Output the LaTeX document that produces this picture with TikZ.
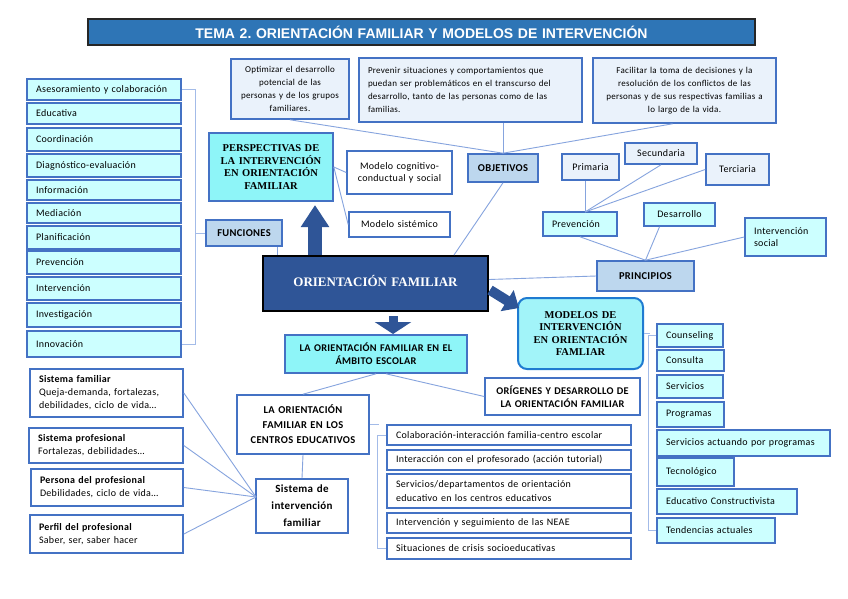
\documentclass[tikz,border=0pt]{standalone}
\usepackage{fontspec}
\setmainfont{Carlito}[LetterSpace=3]
\newfontfamily\serifb{Liberation Serif}
\newfontfamily\titlef{Liberation Sans}
\usetikzlibrary{arrows.meta}
\definecolor{bord}{HTML}{4472C4}
\definecolor{lineblue}{HTML}{86A4DE}
\definecolor{brk}{HTML}{A3BBE8}
\definecolor{cyanL}{HTML}{CCFFFF}
\definecolor{cyanM}{HTML}{8EF5F8}
\definecolor{headf}{HTML}{BDD7EE}
\definecolor{objf}{HTML}{EAF2FB}
\definecolor{darkb}{HTML}{2F5597}
\definecolor{titleb}{HTML}{2E75B6}
\definecolor{modb}{HTML}{1F7BD1}
\definecolor{modf}{HTML}{A2F4F9}
\newcommand\bx[7]{%
  \pgfmathsetmacro\bxw{#4-#2}%
  \pgfmathsetmacro\bxh{#5-#3}%
  \pgfmathsetmacro\bxt{#4-#2-18}%
  \node[#6, minimum width=\bxw pt, minimum height=\bxh pt, text width=\bxt pt] (#1) at ({(#2+#4)/2},{(#3+#5)/2}) {#7};}
\tikzset{
  bbase/.style={draw=bord, line width=1.6pt, inner sep=0pt, font=\fontsize{10}{12}\selectfont},
  lst/.style={bbase, fill=cyanL, align=left},
  lsts/.style={bbase, fill=cyanL, align=left, font=\fontsize{10}{12}\selectfont},
  wlst/.style={bbase, fill=white, align=left, font=\fontsize{10}{13.3}\selectfont},
  sisbox/.style={bbase, fill=white, align=left, font=\fontsize{10}{13}\selectfont},
  objbox/.style={bbase, fill=objf, font=\fontsize{9}{13}\selectfont},
  headbox/.style={bbase, fill=headf, align=center, font=\fontsize{10.5}{12}\selectfont\bfseries},
  cybox/.style={bbase, fill=cyanM, align=center, font=\fontsize{10.5}{12.5}\serifb\bfseries},
  cysans/.style={bbase, fill=cyanM, align=center, font=\fontsize{10.3}{13}\selectfont\bfseries},
  whbold/.style={bbase, fill=white, align=center, font=\fontsize{10.3}{13}\selectfont\bfseries},
  whbox/.style={bbase, fill=white, align=center},
  ofbox/.style={draw=black, line width=2pt, fill=darkb, inner sep=0pt, align=center, text=white, font=\fontsize{13}{15}\serifb\bfseries},
  modbox/.style={draw=modb, line width=2pt, fill=modf, rounded corners=9pt, inner sep=0pt, align=center, font=\fontsize{10.5}{12.5}\serifb\bfseries},
  titlebox/.style={draw=black!85, line width=1.4pt, fill=titleb, inner sep=0pt, align=center, text=white, font=\fontsize{14}{16}\titlef\bfseries},
  conn/.style={draw=lineblue, line width=0.9pt},
  brack/.style={draw=brk, line width=0.9pt},
}
\begin{document}
\begin{tikzpicture}[x=1pt,y=-1pt]
\useasboundingbox (0,0) rectangle (848,599);
\fill[white] (0,0) rectangle (848,599);
% title
\bx{title}{88}{19}{755}{45}{titlebox}{TEMA 2.\ ORIENTACIÓN FAMILIAR Y MODELOS DE INTERVENCIÓN}
% funciones list
\bx{ases}{27}{79}{181}{100}{lst}{Asesoramiento y colaboración}
\bx{educ}{27}{103}{181}{124}{lst}{Educativa}
\bx{coord}{27}{128}{181}{151}{lst}{Coordinación}
\bx{diag}{27}{154}{181}{177}{lst}{Diagnóstico-evaluación}
\bx{info}{27}{180}{181}{200}{lst}{Información}
\bx{medi}{27}{203}{181}{223}{lst}{Mediación}
\bx{plan}{27}{226}{181}{249}{lst}{Planificación}
\bx{fprev}{27}{251}{181}{274}{lst}{Prevención}
\bx{finterv}{27}{277}{181}{300}{lst}{Intervención}
\bx{invest}{27}{303}{181}{327}{lst}{Investigación}
\bx{innov}{27}{331}{181}{357}{lst}{Innovación}
\bx{funciones}{206}{220}{282}{246}{headbox}{FUNCIONES}
% perspectivas
\bx{persp}{209}{133}{333}{201}{cybox}{PERSPECTIVAS DE\\LA INTERVENCIÓN\\EN ORIENTACIÓN\\FAMILIAR}
\bx{cogn}{347}{151}{452}{194}{whbox}{Modelo cognitivo-\\conductual y social}
\bx{sist}{349}{212}{450}{237}{whbox}{Modelo sistémico}
% objetivos
\bx{obj1}{231}{59}{349}{119}{objbox, align=center}{Optimizar el desarrollo\\potencial de las\\personas y de los grupos\\familiares.}
\bx{obj2}{359}{58}{582}{122}{objbox, align=left}{Prevenir situaciones y comportamientos que\\puedan ser problemáticos en el transcurso del\\desarrollo, tanto de las personas como de las\\familias.}
\bx{obj3}{593}{58}{776}{123}{objbox, align=center}{Facilitar la toma de decisiones y la\\resolución de los conflictos de las\\personas y de sus respectivas familias a\\lo largo de la vida.}
\bx{objetivos}{468}{154}{538}{182}{headbox}{OBJETIVOS}
% central
\bx{of}{263}{256}{488}{311}{ofbox}{\raisebox{5pt}{ORIENTACIÓN FAMILIAR}}
% principios
\bx{principios}{597}{261}{694}{291}{headbox}{PRINCIPIOS}
\bx{pprev}{543}{212}{617}{236}{lst}{Prevención}
\bx{pdes}{644}{203}{715}{226}{lst, align=center}{Desarrollo}
\bx{pint}{745}{218}{826}{256}{lst}{Intervención\\social}
\bx{pprim}{562}{154}{619}{180}{bbase, fill=objf, align=center}{Primaria}
\bx{psec}{625}{143}{697}{164}{bbase, fill=objf, align=center}{Secundaria}
\bx{pterc}{706}{154}{769}{185}{bbase, fill=objf, align=center}{Terciaria}
% modelos
\bx{modelos}{518}{298}{643}{369}{modbox}{MODELOS DE\\INTERVENCIÓN\\EN ORIENTACIÓN\\FAMLIAR}
\bx{m1}{657}{324}{723}{347}{lsts}{Counseling}
\bx{m2}{657}{350}{724}{371}{lsts}{Consulta}
\bx{m3}{657}{375}{723}{398}{lsts}{Servicios}
\bx{m4}{657}{402}{724}{427}{lsts}{Programas}
\bx{m5}{657}{430}{830}{456}{lsts}{Servicios actuando por programas}
\bx{m6}{657}{458}{734}{486}{lsts}{Tecnológico}
\bx{m7}{657}{489}{797}{514}{lsts}{Educativo Constructivista}
\bx{m8}{657}{518}{775}{543}{lsts}{Tendencias actuales}
% ambito escolar
\bx{ambito}{285}{335}{467}{373}{cysans}{LA ORIENTACIÓN FAMILIAR EN EL\\ÁMBITO ESCOLAR}
\bx{origenes}{485}{378}{640}{415}{whbold}{ORÍGENES Y DESARROLLO DE\\LA ORIENTACIÓN FAMILIAR}
\bx{centros}{237}{395}{369}{454}{whbold, font=\fontsize{10.5}{15}\selectfont\bfseries}{LA ORIENTACIÓN\\FAMILIAR EN LOS\\CENTROS EDUCATIVOS}
\bx{sistema}{256}{479}{348}{533}{whbold, font=\fontsize{11}{17}\selectfont\bfseries}{Sistema de\\intervención\\familiar}
\bx{c1}{387}{425}{631}{445}{wlst}{Colaboración-interacción familia-centro escolar}
\bx{c2}{387}{450}{631}{470}{wlst}{Interacción con el profesorado (acción tutorial)}
\bx{c3}{387}{474}{631}{508}{wlst}{Servicios/departamentos de orientación\\educativo en los centros educativos}
\bx{c4}{387}{513}{631}{533}{wlst}{Intervención y seguimiento de las NEAE}
\bx{c5}{387}{538}{631}{559}{wlst}{Situaciones de crisis socioeducativas}
\bx{sfam}{30}{369}{183}{417}{sisbox}{\textbf{Sistema familiar}\\Queja-demanda, fortalezas,\\debilidades, ciclo de vida…}
\bx{sprof}{29}{428}{183}{463}{sisbox}{\textbf{Sistema profesional}\\Fortalezas, debilidades…}
\bx{spers}{31}{469}{183}{506}{sisbox}{\textbf{Persona del profesional}\\Debilidades, ciclo de vida…}
\bx{sperf}{30}{515}{183}{553}{sisbox}{\textbf{Perfil del profesional}\\Saber, ser, saber hacer}
% coordinates
\coordinate (upTip) at (315,205);
\coordinate (dgS) at (490,290);
\coordinate (dgE) at (519,308);
\coordinate (dnS) at (393,316);
\coordinate (dnE) at (393,334);
\coordinate (pv) at (585,212);
\coordinate (sconv) at (256,497);
% connectors
\draw[brack] (ases.east) -- ++(14,0) coordinate (fbt) |- (innov.east);
\draw[brack] (funciones.west) -- (funciones.west -| fbt);
\draw[conn] ([xshift=-5pt]funciones.south east) -- ([xshift=-5pt]funciones.south east |- of.north);
\draw[conn] (persp.east) -- (cogn.west);
\draw[conn] (persp.east) -- (sist.west);
\draw[conn] (obj1.south) -- (objetivos.north);
\draw[conn] (obj2.south -| objetivos.north) -- (objetivos.north);
\draw[conn] ([xshift=-12pt]obj3.south) -- (objetivos.north);
\draw[conn] (objetivos.south) -- ([xshift=-35pt]of.north east);
\draw[conn] ([yshift=4pt]of.east) -- (principios.west);
\draw[conn] (pv) -- (pprim.south -| pv);
\draw[conn] (pv) -- (psec.south);
\draw[conn] (pv) -- (pterc.west);
\draw[conn] (pprev.south) -- (principios.north);
\draw[conn] ([xshift=-20pt]pdes.south) -- (principios.north);
\draw[conn] (pint.west) -- (principios.north);
\draw[brack] (modelos.east) -- ++(6,0);
\draw[brack] (m1.west) -- ++(-8,0) |- (m8.west);
\draw[conn] (ambito.south) -- (centros.north);
\draw[conn] ([xshift=10pt]ambito.south) -- (origenes.west);
\draw[conn] (centros.south) -- (sistema.north);
\draw[brack] (centros.east) -- ++(9,0);
\draw[brack] (c1.west) -- ++(-9,0) |- (c5.west);
\draw[conn] (sfam.east) -- (sconv);
\draw[conn] (sprof.east) -- (sconv);
\draw[conn] (spers.east) -- (sconv);
\draw[conn] (sperf.east) -- (sconv);
% block arrows
\draw[darkb, line width=14pt, -{Triangle[width=27pt,length=22pt]}] (of.north -| upTip) -- (upTip);
\draw[darkb, line width=10pt, -{Triangle[width=24pt,length=14pt]}] (dgS) -- (dgE);
\draw[darkb, line width=9pt, -{Triangle[width=36pt,length=12pt]}] (dnS) -- (dnE);
\end{tikzpicture}
\end{document}
